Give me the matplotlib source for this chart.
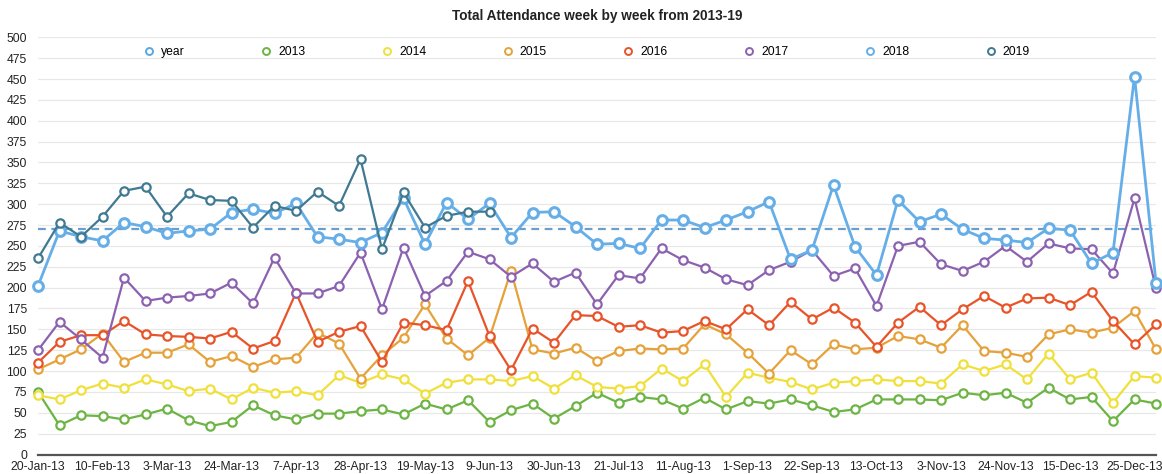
import matplotlib
matplotlib.use('Agg')
import matplotlib.pyplot as plt
from matplotlib.lines import Line2D

plt.rcParams['font.family'] = ['Liberation Sans', 'DejaVu Sans']

# shown x labels (every 3rd week)
tick_labels = ['20-Jan-13', '10-Feb-13', '3-Mar-13', '24-Mar-13', '7-Apr-13', '28-Apr-13',
               '19-May-13', '9-Jun-13', '30-Jun-13', '21-Jul-13', '11-Aug-13', '1-Sep-13',
               '22-Sep-13', '13-Oct-13', '3-Nov-13', '24-Nov-13', '15-Dec-13', '25-Dec-13']
tick_step = 3
n_weeks = 53

y2013 = [75, 35, 47, 46, 42, 48, 55, 41, 34, 39, 59, 47, 42, 49, 49, 52, 54, 48, 61, 54,
         65, 39, 53, 61, 43, 58, 74, 62, 69, 66, 55, 68, 54, 64, 61, 66, 59, 51, 54, 66,
         66, 66, 65, 74, 71, 74, 62, 80, 66, 69, 40, 66, 61]
y2014 = [71, 66, 77, 85, 80, 90, 84, 76, 79, 66, 80, 74, 76, 71, 95, 86, 96, 90, 73, 86,
         90, 90, 88, 94, 79, 95, 81, 79, 82, 103, 88, 108, 69, 98, 92, 87, 78, 86, 88, 90,
         88, 88, 85, 108, 100, 108, 90, 121, 90, 98, 62, 94, 92]
y2015 = [102, 114, 126, 145, 111, 122, 122, 132, 111, 118, 105, 114, 116, 146, 133, 91, 119, 140, 180, 139,
         119, 140, 220, 126, 121, 128, 112, 124, 127, 126, 127, 156, 144, 122, 97, 125, 108, 132, 126, 128,
         142, 138, 128, 155, 124, 122, 117, 144, 150, 146, 152, 172, 126]
y2016 = [110, 135, 143, 143, 160, 144, 142, 141, 139, 147, 127, 136, 194, 135, 147, 154, 111, 158, 155, 149,
         208, 142, 101, 151, 134, 167, 166, 153, 155, 146, 148, 160, 150, 174, 155, 183, 162, 176, 158, 129,
         158, 177, 155, 174, 190, 176, 187, 188, 179, 195, 160, 132, 156]
y2017 = [125, 159, 138, 116, 212, 184, 188, 190, 193, 206, 181, 236, 193, 193, 202, 242, 174, 248, 190, 208,
         243, 234, 213, 229, 207, 218, 180, 215, 211, 247, 233, 224, 210, 203, 221, 231, 245, 214, 223, 178,
         250, 255, 228, 220, 231, 250, 231, 253, 247, 246, 217, 307, 199]
y2018 = [202, 268, 261, 256, 278, 273, 265, 268, 270, 290, 294, 289, 301, 261, 258, 254, 266, 307, 252, 302,
         282, 301, 260, 290, 291, 273, 252, 253, 247, 281, 281, 272, 281, 291, 303, 234, 245, 323, 249, 215,
         305, 279, 288, 270, 259, 257, 254, 271, 269, 229, 242, 453, 206]
y2019 = [235, 278, 261, 285, 316, 321, 285, 313, 305, 304, 272, 298, 292, 315, 298, 354, 246, 314, 272, 286,
         291, 291]
year_avg = 270

series = [('2013', y2013, '#6cb443'), ('2014', y2014, '#f0e03c'), ('2015', y2015, '#e6a23a'),
          ('2016', y2016, '#e8542a'), ('2017', y2017, '#8c62b0'), ('2018', y2018, '#66aee8'),
          ('2019', y2019, '#3f7a92')]
year_color = '#5aa8e2'

fig = plt.figure(figsize=(11.62, 4.74), dpi=100)
ax = fig.add_axes([38 / 1162, 1 - 454.5 / 474, 1118 / 1162, (454.5 - 37.3) / 474])

for name, vals, col in series:
    thick = name == '2018'
    ax.plot(range(len(vals)), vals, color=col, lw=2.0 if thick else 1.6,
            marker='o', ms=7 if thick else 6, mfc='white', mec=col,
            mew=2.2 if thick else 1.6, clip_on=False, zorder=3)

ax.axhline(year_avg, color='#6a9ecb', lw=1.6, ls=(0, (3.5, 2.5)), zorder=2)

ax.set_xlim(0, n_weeks - 1)
ax.set_ylim(0, 500)
ax.set_yticks(range(0, 501, 25))
ax.set_xticks(range(0, n_weeks, tick_step))
ax.set_xticklabels(tick_labels)
ax.tick_params(axis='both', length=0, labelsize=8.7, colors='#222222')
ax.tick_params(axis='y', pad=8)
ax.tick_params(axis='x', pad=5)
ax.grid(axis='y', color='#e8e8e8', lw=0.9)
ax.set_axisbelow(True)
for s in ['top', 'right', 'left']:
    ax.spines[s].set_visible(False)
ax.spines['bottom'].set_color('#555555')
ax.spines['bottom'].set_linewidth(1.6)

fig.text(597 / 1162, 1 - 16 / 474, 'Total Attendance week by week from 2013-19', ha='center', va='center',
         fontsize=9.8, fontweight='bold', color='#222222')

handles = [Line2D([], [], ls='none', marker='o', ms=5, mfc='white', mec=year_color, mew=1.4)]
labels = ['year']
for name, vals, col in series:
    handles.append(Line2D([], [], ls='none', marker='o', ms=5, mfc='white', mec=col, mew=1.4))
    labels.append(name)
fig.legend(handles, labels, loc='lower left', bbox_to_anchor=(144 / 1162, 1 - 58 / 474, 886 / 1162, 14 / 474),
           mode='expand', ncol=8, frameon=False, handlelength=0.8, handletextpad=0.6,
           borderpad=0, borderaxespad=0, fontsize=8.7)

fig.savefig('out.png', dpi=100)
